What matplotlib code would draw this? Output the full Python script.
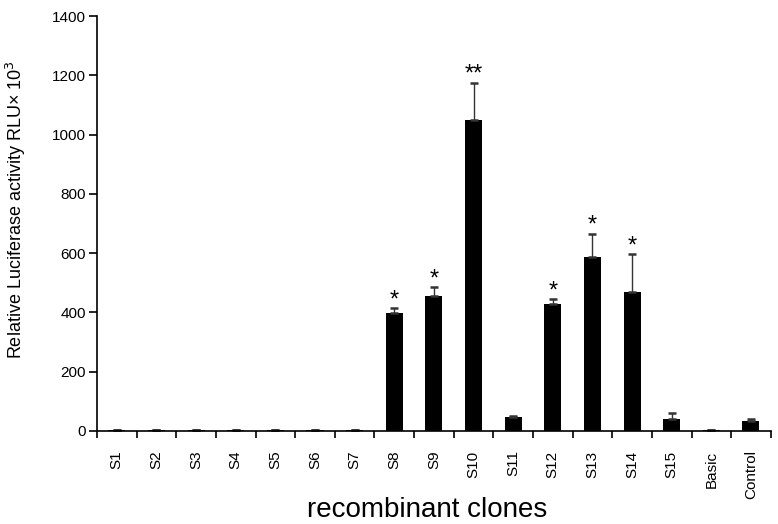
import numpy as np
import matplotlib.pyplot as plt

plt.rcParams["font.family"] = ["Liberation Sans", "DejaVu Sans"]

clones = ["S1", "S2", "S3", "S4", "S5", "S6", "S7", "S8", "S9", "S10",
          "S11", "S12", "S13", "S14", "S15", "Basic", "Control"]
activity = [3, 3, 3, 3, 3, 3, 3, 398, 455, 1050, 48, 427, 587, 468, 42, 3, 33]
errors = [0, 0, 0, 0, 0, 0, 0, 16, 30, 125, 4, 18, 78, 128, 20, 0, 8]
stars = ["", "", "", "", "", "", "", "*", "*", "**", "", "*", "*", "*", "", "", ""]

fig = plt.figure(figsize=(7.78, 5.24), dpi=100)
ax = fig.add_axes([0.1247, 0.1775, 0.866, 0.7915])

x = np.arange(len(clones))
ax.bar(x, activity, width=0.43, color="black")
ax.errorbar(x, activity, yerr=[np.zeros(len(errors)), errors], fmt="none",
            ecolor="#333333", elinewidth=1, capsize=3, capthick=1.8)

# significance marks above the error bars
for xi, val, err, s in zip(x, activity, errors, stars):
    if s:
        ax.annotate(s, (xi, val + err), xytext=(0, 1.5), textcoords="offset points",
                    ha="center", va="baseline", fontsize=17)

ax.set_xlim(-0.5, len(clones) - 0.5)
ax.set_ylim(0, 1400)
ax.set_yticks(range(0, 1401, 200))
ax.set_xticks(x)
ax.set_xticklabels(clones, rotation=90, fontsize=11, va="top")
ax.set_xticks(np.arange(-0.5, len(clones), 1), minor=True)
ax.tick_params(axis="x", which="major", length=0, pad=14)
ax.tick_params(axis="x", which="minor", length=5, width=1.2, direction="out")
ax.tick_params(axis="y", length=6, width=1.2, labelsize=11, pad=2)

ax.spines["top"].set_visible(False)
ax.spines["right"].set_visible(False)
ax.spines["left"].set_linewidth(1.2)
ax.spines["bottom"].set_linewidth(1.2)

ax.set_ylabel("Relative Luciferase activity RLU× 10$^3$", fontsize=13)
ax.yaxis.set_label_coords(-0.102, 0.533)
fig.text(0.549, 1 - 517 / 524, "recombinant clones", ha="center", va="baseline",
         fontsize=20)

fig.savefig("out.png", dpi=100)
